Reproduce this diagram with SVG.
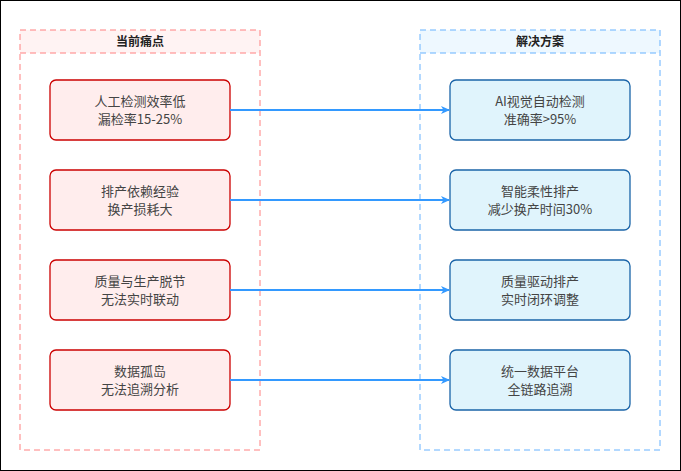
<svg xmlns="http://www.w3.org/2000/svg" width="681" height="471" viewBox="0 0 681 471">
<defs>
<style>
text{font-family:"Noto Sans CJK SC","Liberation Sans",sans-serif;font-size:13px;fill:#444;text-anchor:middle}
.h{font-weight:bold;font-size:12px;fill:#222}
.pn rect{fill:#ffeded;stroke:#cc0000;stroke-width:1.3}
.sn rect{fill:#e0f4fc;stroke:#1a64a8;stroke-width:1.3}
.c{stroke:#3399ff;stroke-width:2;fill:none;marker-end:url(#a)}
</style>
<marker id="a" markerWidth="10" markerHeight="10" refX="8" refY="5" orient="auto" markerUnits="userSpaceOnUse"><path d="M0,1 L9,5 L0,9 L2.5,5 Z" fill="#3399ff"/></marker>
</defs>
<rect x="0.5" y="0.5" width="680" height="470" fill="#fff" stroke="#000"/>
<g id="left">
<rect x="20" y="30" width="240" height="23" fill="#fff3f3"/>
<rect x="20" y="30" width="240" height="420" fill="none" stroke="#ff8080" stroke-dasharray="6 4"/>
<line x1="20" y1="53" x2="260" y2="53" stroke="#ff8080" stroke-dasharray="6 4"/>
<text class="h" x="140" y="46">当前痛点</text>
</g>
<g id="right">
<rect x="420" y="30" width="240" height="23" fill="#eef8ff"/>
<rect x="420" y="30" width="240" height="420" fill="none" stroke="#66b2ff" stroke-dasharray="6 4"/>
<line x1="420" y1="53" x2="660" y2="53" stroke="#66b2ff" stroke-dasharray="6 4"/>
<text class="h" x="540" y="46">解决方案</text>
</g>
<g id="p1" class="pn"><rect x="50" y="80" width="180" height="60" rx="6"/><text x="140" y="106">人工检测效率低</text><text x="140" y="124">漏检率15-25%</text></g>
<g id="p2" class="pn"><rect x="50" y="170" width="180" height="60" rx="6"/><text x="140" y="196">排产依赖经验</text><text x="140" y="214">换产损耗大</text></g>
<g id="p3" class="pn"><rect x="50" y="260" width="180" height="60" rx="6"/><text x="140" y="286">质量与生产脱节</text><text x="140" y="304">无法实时联动</text></g>
<g id="p4" class="pn"><rect x="50" y="350" width="180" height="60" rx="6"/><text x="140" y="376">数据孤岛</text><text x="140" y="394">无法追溯分析</text></g>
<g id="s1" class="sn"><rect x="450" y="80" width="180" height="60" rx="6"/><text x="540" y="106">AI视觉自动检测</text><text x="540" y="124">准确率&gt;95%</text></g>
<g id="s2" class="sn"><rect x="450" y="170" width="180" height="60" rx="6"/><text x="540" y="196">智能柔性排产</text><text x="540" y="214">减少换产时间30%</text></g>
<g id="s3" class="sn"><rect x="450" y="260" width="180" height="60" rx="6"/><text x="540" y="286">质量驱动排产</text><text x="540" y="304">实时闭环调整</text></g>
<g id="s4" class="sn"><rect x="450" y="350" width="180" height="60" rx="6"/><text x="540" y="376">统一数据平台</text><text x="540" y="394">全链路追溯</text></g>
<g id="connectors">
<path class="c" d="M230,110 L449,110"/>
<path class="c" d="M230,200 L449,200"/>
<path class="c" d="M230,290 L449,290"/>
<path class="c" d="M230,380 L449,380"/>
</g>
</svg>
